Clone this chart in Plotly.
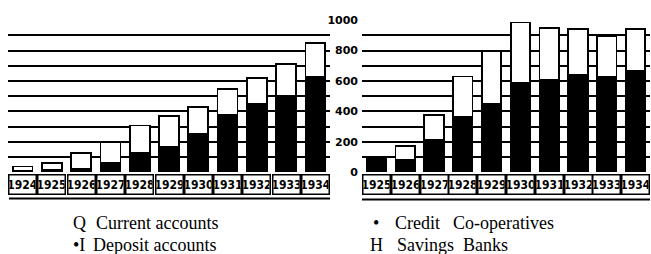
import plotly.graph_objects as go

# ---- data ----
years_left = ["1924", "1925", "1926", "1927", "1928", "1929", "1930", "1931", "1932", "1933", "1934"]
deposit_accounts = [10, 15, 20, 60, 127, 167, 252, 375, 448, 504, 625]
current_accounts = [27, 45, 103, 134, 179, 204, 175, 173, 171, 208, 225]

years_right = ["1925", "1926", "1927", "1928", "1929", "1930", "1931", "1932", "1933", "1934"]
savings_banks = [77, 83, 215, 360, 448, 588, 608, 642, 625, 667]
credit_coops = [17, 88, 160, 269, 348, 397, 340, 300, 271, 275]

right_ticks = [0, 100, 200, 300, 400, 500, 600, 700, 800, 900, 1000]
right_ticktext = ["0", "", "200", "", "400", "", "600", "", "800", "", "1000"]
left_grid = [100, 200, 300, 400, 500, 600, 700, 800, 900]

BLACK = "#000000"
WHITE = "#ffffff"
bar_line = dict(color=BLACK, width=1.8)

fig = go.Figure()
fig.add_trace(go.Bar(x=years_left, y=deposit_accounts, marker=dict(color=BLACK, line=bar_line),
                     xaxis="x", yaxis="y", name="Deposit accounts"))
fig.add_trace(go.Bar(x=years_left, y=current_accounts, marker=dict(color=WHITE, line=bar_line),
                     xaxis="x", yaxis="y", name="Current accounts"))
fig.add_trace(go.Bar(x=years_right, y=savings_banks, marker=dict(color=BLACK, line=bar_line),
                     xaxis="x2", yaxis="y2", name="Savings Banks"))
fig.add_trace(go.Bar(x=years_right, y=credit_coops, marker=dict(color=WHITE, line=bar_line),
                     xaxis="x2", yaxis="y2", name="Credit Co-operatives"))

W, H = 651, 254
ydom = [1 - 175 / H, 1 - 15 / H]

annotations = []
label_font = dict(family="DejaVu Sans Condensed", size=12, color=BLACK, weight="bold")
for xr, yrs in (("x", years_left), ("x2", years_right)):
    for i, yv in enumerate(yrs):
        annotations.append(dict(
            x=i, xref=xr, y=1 - 188 / H, yref="paper", yanchor="middle", xanchor="center",
            text=yv, showarrow=False, font=label_font,
            width=26, height=18, bordercolor=BLACK, borderwidth=1.5, borderpad=0, bgcolor=WHITE))

serif = dict(family="Liberation Serif", size=18, color=BLACK)
legend_items = [
    (71, 229, "Q"), (94, 229, "Current accounts"),
    (71, 252, "•I"), (91, 252, "Deposit accounts"),
    (371, 229, "•"), (393, 229, "Credit"), (451, 229, "Co-operatives"),
    (368, 252, "H"), (395, 252, "Savings"), (461, 252, "Banks"),
]
for px, py, txt in legend_items:
    annotations.append(dict(x=px / W, y=1 - py / H, xref="paper", yref="paper",
                            xanchor="left", yanchor="middle", text=txt, showarrow=False,
                            font=serif))

shapes = [
    dict(type="line", xref="paper", yref="paper", x0=9 / W, x1=330 / W, y0=1 - 203 / H, y1=1 - 203 / H,
         line=dict(color=BLACK, width=2)),
    dict(type="line", xref="paper", yref="paper", x0=362 / W, x1=650 / W, y0=1 - 204 / H, y1=1 - 204 / H,
         line=dict(color=BLACK, width=2)),
]

fig.update_layout(
    width=W, height=H,
    margin=dict(l=0, r=0, t=0, b=0),
    paper_bgcolor=WHITE, plot_bgcolor=WHITE,
    barmode="stack", bargap=0.32,
    showlegend=False,
    xaxis=dict(domain=[8 / W, 330 / W], type="category", range=[-0.5, 10.5],
               showgrid=False, showticklabels=False, zeroline=False, showline=False, ticks=""),
    yaxis=dict(domain=ydom, range=[0, 1000], tickvals=left_grid, showticklabels=False,
               showgrid=True, gridcolor=BLACK, gridwidth=1.6, zeroline=False, showline=False, ticks=""),
    xaxis2=dict(domain=[362 / W, 650 / W], type="category", range=[-0.5, 9.5],
                showgrid=False, showticklabels=False, zeroline=False, showline=False, ticks=""),
    yaxis2=dict(domain=ydom, range=[0, 1000], anchor="x2", tickvals=right_ticks, ticktext=right_ticktext,
                showticklabels=True,
                tickfont=dict(family="DejaVu Sans", size=11, color=BLACK, weight="bold"),
                ticklabelstandoff=3,
                showgrid=True, gridcolor=BLACK, gridwidth=1.6, zeroline=False, showline=False, ticks=""),
    annotations=annotations,
    shapes=shapes,
)

fig.write_html("out.html", config={"displayModeBar": False},
               post_script="document.body.style.margin='0';document.body.style.overflow='hidden';")
